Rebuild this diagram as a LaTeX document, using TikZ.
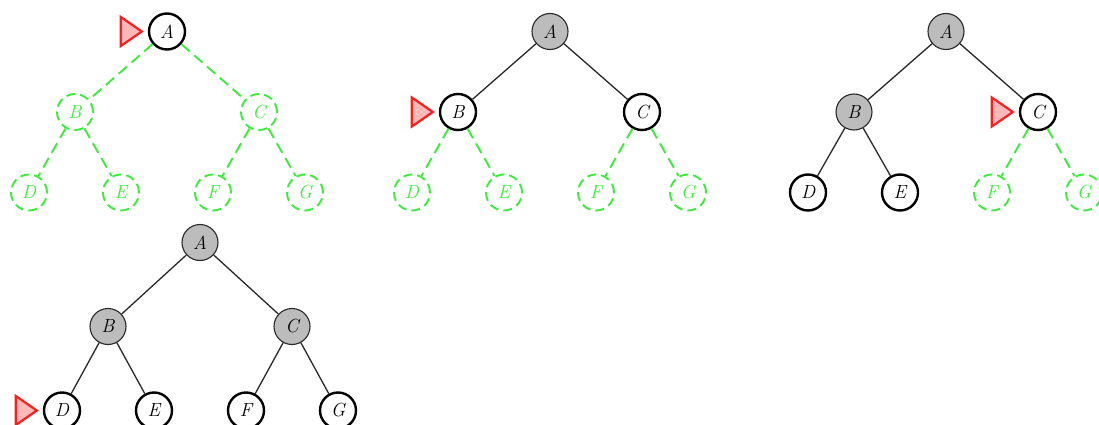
\documentclass[tikz,border=0pt]{standalone}
\usetikzlibrary{calc}
\definecolor{pendgreen}{RGB}{60,235,60}
\definecolor{visgray}{RGB}{188,188,188}
\definecolor{ptrred}{RGB}{250,30,30}
\definecolor{ptrfill}{RGB}{255,185,185}
\definecolor{edgeblack}{RGB}{40,40,40}
\tikzset{
  treenode/.style={circle, minimum size=36pt, inner sep=0pt,
    font=\fontsize{19}{22}\selectfont\itshape},
  visited/.style={treenode, draw=edgeblack, fill=visgray, line width=1.1pt},
  current/.style={treenode, draw=black, fill=white, line width=2.4pt},
  pending/.style={treenode, draw=pendgreen, text=pendgreen, line width=1.9pt,
    dash pattern=on 9pt off 5pt},
  doneedge/.style={draw=edgeblack, line width=1.3pt},
  todoedge/.style={draw=pendgreen, line width=1.9pt, dash pattern=on 11pt off 6pt},
  pointer/.style={draw=ptrred, fill=ptrfill, line width=2.2pt, line join=miter},
}
% red cursor triangle placed just left of a node
\newcommand\cursor[1]{%
  \draw[pointer] ($(#1.west)+(-6,0)$) coordinate (#1tip)
    -- ++(-21,-14.5) -- ++(0,29) -- cycle;}
\begin{document}
\begin{tikzpicture}[x=1pt,y=-1pt]
\useasboundingbox (0,0) rectangle (1099,425);
\clip (0,0) rectangle (1099,425);

% ---- step 1: start at the root
\begin{scope}[shift={(167,31.5)}]
  \node[current] (pa) at (0,0) {A};
  \node[pending] (pb) at (-92,80.5) {B};
  \node[pending] (pc) at (92,80.5) {C};
  \node[pending] (pd) at (-138,161) {D};
  \node[pending] (pe) at (-46,161) {E};
  \node[pending] (pf) at (46,161) {F};
  \node[pending] (pg) at (138,161) {G};
  \draw[todoedge] (pa) -- (pb);
  \draw[todoedge] (pa) -- (pc);
  \draw[todoedge] (pb) -- (pd);
  \draw[todoedge] (pb) -- (pe);
  \draw[todoedge] (pc) -- (pf);
  \draw[todoedge] (pc) -- (pg);
  \cursor{pa}
\end{scope}

% ---- step 2: root visited, second level reached
\begin{scope}[shift={(550,31.5)}]
  \node[visited] (qa) at (0,0) {A};
  \node[current] (qb) at (-92,80.5) {B};
  \node[current] (qc) at (92,80.5) {C};
  \node[pending] (qd) at (-138,161) {D};
  \node[pending] (qe) at (-46,161) {E};
  \node[pending] (qf) at (46,161) {F};
  \node[pending] (qg) at (138,161) {G};
  \draw[doneedge] (qa) -- (qb);
  \draw[doneedge] (qa) -- (qc);
  \draw[todoedge] (qb) -- (qd);
  \draw[todoedge] (qb) -- (qe);
  \draw[todoedge] (qc) -- (qf);
  \draw[todoedge] (qc) -- (qg);
  \cursor{qb}
\end{scope}

% ---- step 3: B visited, cursor on C
\begin{scope}[shift={(946,31.5)}]
  \node[visited] (ra) at (0,0) {A};
  \node[visited] (rb) at (-92,80.5) {B};
  \node[current] (rc) at (92,80.5) {C};
  \node[current] (rd) at (-138,161) {D};
  \node[current] (re) at (-46,161) {E};
  \node[pending] (rf) at (46,161) {F};
  \node[pending] (rg) at (138,161) {G};
  \draw[doneedge] (ra) -- (rb);
  \draw[doneedge] (ra) -- (rc);
  \draw[doneedge] (rb) -- (rd);
  \draw[doneedge] (rb) -- (re);
  \draw[todoedge] (rc) -- (rf);
  \draw[todoedge] (rc) -- (rg);
  \cursor{rc}
\end{scope}

% ---- step 4: all leaves reached, cursor on D
\begin{scope}[shift={(200,242.5)}]
  \node[visited] (sa) at (0,0) {A};
  \node[visited] (sb) at (-92,84) {B};
  \node[visited] (sc) at (92,84) {C};
  \node[current] (sd) at (-138,168) {D};
  \node[current] (se) at (-46,168) {E};
  \node[current] (sf) at (46,168) {F};
  \node[current] (sg) at (138,168) {G};
  \draw[doneedge] (sa) -- (sb);
  \draw[doneedge] (sa) -- (sc);
  \draw[doneedge] (sb) -- (sd);
  \draw[doneedge] (sb) -- (se);
  \draw[doneedge] (sc) -- (sf);
  \draw[doneedge] (sc) -- (sg);
  \cursor{sd}
\end{scope}
\end{tikzpicture}
\end{document}
